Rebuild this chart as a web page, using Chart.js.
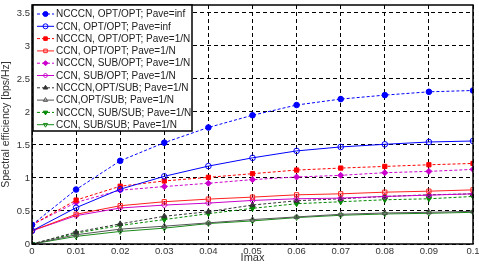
<!DOCTYPE html>
<html><head><meta charset="utf-8">
<script src="https://cdn.jsdelivr.net/npm/chart.js@4/dist/chart.umd.min.js"></script>
<style>html,body{margin:0;padding:0;background:#fff;}#wrap{width:479px;height:266px;}</style>
</head><body><div id="wrap"><canvas id="c" width="479" height="266"></canvas></div>
<script>
const xValues = [0, 0.01, 0.02, 0.03, 0.04, 0.05, 0.06, 0.07, 0.08, 0.09, 0.1];
const xTicks = [0, 0.01, 0.02, 0.03, 0.04, 0.05, 0.06, 0.07, 0.08, 0.09, 0.1];
const yTicks = [0, 0.5, 1, 1.5, 2, 2.5, 3, 3.5];
const seriesLabels = [
  "NCCCN, OPT/OPT; Pave=inf",
  "CCN, OPT/OPT; Pave=inf",
  "NCCCN, OPT/OPT; Pave=1/N",
  "CCN, OPT/OPT; Pave=1/N",
  "NCCCN, SUB/OPT; Pave=1/N",
  "CCN, SUB/OPT; Pave=1/N",
  "NCCCN,OPT/SUB; Pave=1/N",
  "CCN,OPT/SUB; Pave=1/N",
  "NCCCN, SUB/SUB; Pave=1/N",
  "CCN, SUB/SUB; Pave=1/N"
];
const ncccnOptOptInf = [0.29,0.825,1.26,1.535,1.765,1.95,2.105,2.195,2.255,2.305,2.325];
const ccnOptOptInf   = [0.2,0.55,0.83,1.025,1.18,1.305,1.41,1.47,1.51,1.545,1.56];
const ncccnOptOpt    = [0.29,0.665,0.875,0.955,1.01,1.065,1.12,1.15,1.175,1.2,1.22];
const ccnOptOpt      = [0.2,0.45,0.58,0.64,0.68,0.71,0.745,0.76,0.785,0.8,0.82];
const ncccnSubOpt    = [0.29,0.63,0.815,0.87,0.92,0.975,1.015,1.04,1.08,1.1,1.13];
const ccnSubOpt      = [0.2,0.43,0.545,0.59,0.62,0.66,0.685,0.695,0.72,0.74,0.76];
const ncccnOptSub    = [0,0.18,0.305,0.42,0.49,0.59,0.655,0.685,0.72,0.745,0.76];
const ccnOptSub      = [0,0.14,0.225,0.27,0.32,0.37,0.41,0.45,0.47,0.48,0.495];
const ncccnSubSub    = [0,0.165,0.28,0.37,0.46,0.54,0.61,0.64,0.67,0.685,0.72];
const ccnSubSub      = [0,0.115,0.19,0.24,0.31,0.35,0.40,0.435,0.455,0.465,0.48];

const allSeries = [ncccnOptOptInf, ccnOptOptInf, ncccnOptOpt, ccnOptOpt, ncccnSubOpt, ccnSubOpt, ncccnOptSub, ccnOptSub, ncccnSubSub, ccnSubSub];
const colors = ['#0000ff','#0000ff','#ff0000','#ff2020','#cc00cc','#cc00cc','#333333','#555555','#008800','#1a8a1a'];
const styles = ['circle','circle','rect','rect','rectRot','rectRot','triangle','triangle','triangle','triangle'];
const rotations = [0,0,0,0,0,0,0,0,180,180];
const filled = [true,false,true,false,true,false,true,false,true,false];
const radii = [2.8,2.8,3,3,3,3,3,3,3,3];

const datasets = allSeries.map((s, i) => ({
  label: seriesLabels[i],
  data: s.map((v, j) => ({x: xValues[j], y: v})),
  borderColor: colors[i],
  backgroundColor: filled[i] ? colors[i] : 'rgba(255,255,255,0)',
  pointBackgroundColor: filled[i] ? colors[i] : 'rgba(255,255,255,0)',
  pointBorderColor: colors[i],
  pointStyle: styles[i],
  pointRotation: rotations[i],
  pointRadius: radii[i],
  pointBorderWidth: 1,
  borderWidth: 1,
  borderDash: filled[i] ? [3, 2] : [],
  tension: 0,
  fill: false
}));

const frameAndLegend = {
  id: 'frameAndLegend',
  afterDraw(chart) {
    const ctx = chart.ctx, a = chart.chartArea;
    ctx.save();
    ctx.strokeStyle = '#000';
    ctx.lineWidth = 1.5;
    ctx.setLineDash([]);
    ctx.strokeRect(a.left, a.top, a.right - a.left, a.bottom - a.top);
    // legend
    const lx = a.left + 1, ly = a.top, lw = 159, lh = 126;
    ctx.fillStyle = '#fff';
    ctx.fillRect(lx, ly, lw, lh);
    ctx.lineWidth = 1.5;
    ctx.strokeStyle = '#000';
    ctx.strokeRect(lx, ly, lw, lh);
    ctx.font = '10px "Liberation Sans", Arial, sans-serif';
    ctx.textBaseline = 'middle';
    chart.data.datasets.forEach((d, i) => {
      const y = ly + 9 + i * 12.3;
      ctx.save();
      ctx.strokeStyle = d.borderColor;
      ctx.lineWidth = 1;
      ctx.setLineDash(d.borderDash || []);
      ctx.beginPath(); ctx.moveTo(lx + 4, y); ctx.lineTo(lx + 21, y); ctx.stroke();
      ctx.setLineDash([]);
      ctx.fillStyle = d.pointBackgroundColor;
      ctx.strokeStyle = d.pointBorderColor;
      if (Chart.helpers && Chart.helpers.drawPoint) {
        Chart.helpers.drawPoint(ctx, {pointStyle: d.pointStyle, radius: 2.5, rotation: d.pointRotation, borderWidth: 1}, lx + 12.5, y);
      }
      ctx.restore();
      ctx.fillStyle = '#222';
      ctx.fillText(d.label, lx + 23, y + 0.5);
    });
    ctx.restore();
  }
};

new Chart(document.getElementById('c'), {
  type: 'line',
  data: { datasets },
  plugins: [frameAndLegend],
  options: {
    responsive: false,
    animation: false,
    devicePixelRatio: 1,
    layout: { padding: { top: 5, right: 6, left: 0, bottom: 0 } },
    plugins: { legend: { display: false }, tooltip: { enabled: false } },
    scales: {
      x: {
        type: 'linear', min: 0, max: 0.1,
        afterBuildTicks: s => { s.ticks = xTicks.map(v => ({value: v})); },
        afterFit: s => { s.height = 22; s.paddingLeft = 0; s.paddingRight = 0; },
        ticks: { color: '#333', padding: 2, maxRotation: 0, autoSkip: false,
          font: { family: '"Liberation Sans", Arial, sans-serif', size: 9.5 },
          callback: v => String(Math.round(v * 100) / 100) },
        grid: { color: '#000', lineWidth: 1, drawTicks: false },
        border: { display: false, dash: [4, 3] },
        title: { display: true, text: 'Imax', color: '#333', padding: { top: 0, bottom: 1 },
          font: { family: '"Liberation Sans", Arial, sans-serif', size: 11 } }
      },
      y: {
        type: 'linear', min: 0, max: 3.62,
        afterBuildTicks: s => { s.ticks = yTicks.map(v => ({value: v})); },
        afterFit: s => { s.width = 32; s.paddingTop = 0; s.paddingBottom = 0; },
        ticks: { color: '#333', padding: 2,
          font: { family: '"Liberation Sans", Arial, sans-serif', size: 9.5 },
          callback: v => String(v) },
        grid: { color: '#000', lineWidth: 1, drawTicks: false },
        border: { display: false, dash: [4, 3] },
        title: { display: true, text: 'Spectral efficiency [bps/Hz]', color: '#333', padding: { top: 0, bottom: 0 },
          font: { family: '"Liberation Sans", Arial, sans-serif', size: 10.5 } }
      }
    }
  }
});
</script>
</body></html>
